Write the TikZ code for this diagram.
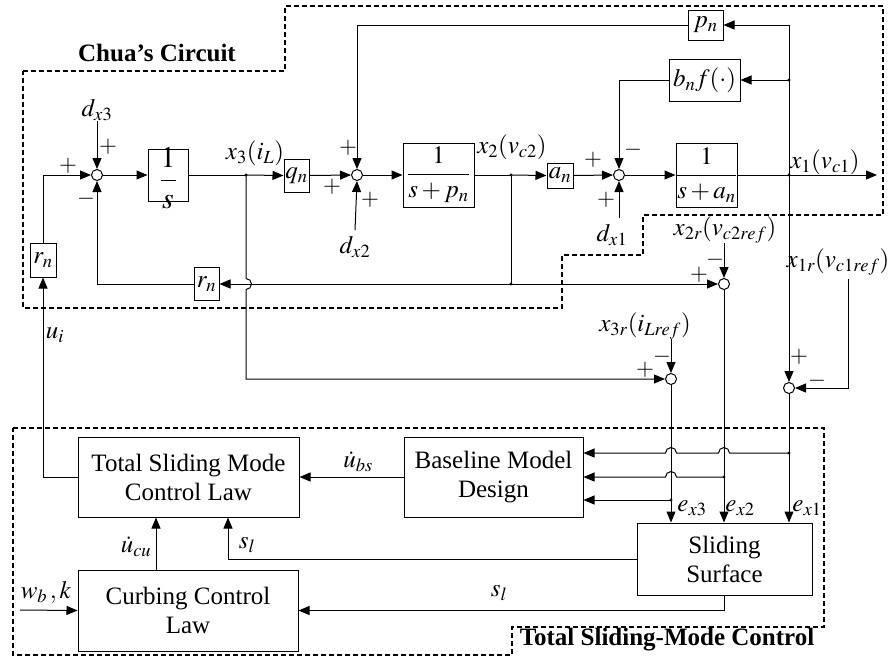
\documentclass[tikz,border=0pt]{standalone}
\usepackage{amsmath}
\usepackage{mathptmx}
\usepackage{fontspec}
\setmainfont{Liberation Serif}
\usetikzlibrary{arrows.meta}
\begin{document}
\begin{tikzpicture}[x=1pt,y=-1pt,
  every node/.style={font=\fontsize{25}{29}\selectfont, inner sep=0pt},
  blk/.style={draw, line width=1pt, align=center},
  sumj/.style={draw, circle, minimum size=11pt, inner sep=0pt, line width=1pt},
  sig/.style={font=\fontsize{23}{23}\selectfont},
  wire/.style={line width=1pt},
  arr/.style={wire, -{Triangle[length=11pt,width=9pt]}},
  bnd/.style={line width=1.4pt, dash pattern=on 5pt off 3pt}]
\useasboundingbox (0,0) rectangle (892,657);

% ---------- boundaries ----------
\draw[bnd] (23,71) -- (285,71) -- (285,6) -- (883,6) -- (883,215) -- (643,215) -- (643,255) -- (562,255) -- (562,308) -- (23,308) -- cycle;
\draw[bnd] (13,428) -- (824,428) -- (824,627) -- (512,627) -- (512,655) -- (13,655) -- cycle;
\node[font=\fontsize{25}{29}\selectfont\bfseries] (chua) at (157,53) {Chua’s Circuit};
\node[font=\fontsize{25}{29}\selectfont\bfseries] (tsmc) at (667,640) {Total Sliding-Mode Control};

% ---------- Chua blocks ----------
\node[sumj] (s1) at (97,175) {};
\node[blk, minimum width=40pt, minimum height=52pt] (ig) at (168,175) {};
\node[font=\fontsize{30}{30}\selectfont] (igt) at (168,178) {$\dfrac{1}{s}$};
\node[blk, minimum width=25pt, minimum height=33pt] (qn) at (296.5,175.5) {$q_n$};
\node[sumj] (s2) at (357,175) {};
\node[blk, minimum width=71pt, minimum height=64pt] (g2) at (438.5,175) {$\dfrac{1}{s+p_n}$};
\node[blk, minimum width=26pt, minimum height=25pt] (an) at (560,175.5) {$a_n$};
\node[sumj] (s3) at (619,175) {};
\node[blk, minimum width=61pt, minimum height=64pt] (g1) at (706.5,175) {$\dfrac{1}{s+a_n}$};
\node[blk, minimum width=71pt, minimum height=42pt] (bnf) at (704.5,80) {$b_n f(\cdot)$};
\node[blk, minimum width=35pt, minimum height=30pt] (pn) at (705.5,25) {$p_n$};
\node[blk, minimum width=26pt, minimum height=34pt] (rn1) at (43,260) {$r_n$};
\node[blk, minimum width=25pt, minimum height=33pt] (rn2) at (206.5,284) {$r_n$};
\node[sumj] (s2r) at (724,284) {};
\node[sumj] (s3r) at (671,379) {};
\node[sumj] (s1r) at (789,388) {};

% ---------- control blocks ----------
\node[blk, minimum width=221pt, minimum height=80pt] (tsm) at (188.5,477) {Total Sliding Mode\\Control Law};
\node[blk, minimum width=179pt, minimum height=80pt] (bmd) at (493.5,477) {Baseline Model\\Design};
\node[blk, minimum width=175pt, minimum height=72pt] (ss) at (724.5,559) {Sliding\\Surface};
\node[blk, minimum width=220pt, minimum height=81pt] (ccl) at (188,610.5) {Curbing Control\\Law};

% ---------- coordinates ----------
\coordinate (x3d) at (246,175);
\coordinate (x2d) at (511,175);
\coordinate (x1d) at (789,175);
\coordinate (x2b) at (511,284);
\coordinate (bnd) at (789,80);
\coordinate (pnc) at (789,25);
\coordinate (x1e) at (877,175);
\coordinate (fbt) at (357,25);
\coordinate (bnl) at (619,80);
\coordinate (lft) at (43,175);
\coordinate (e1d) at (789,453);
\coordinate (e2d) at (724,477);
\coordinate (e3d) at (671,500);
\coordinate (win) at (20,610);

% ---------- labels ----------
\node (dx3) at (97,110) {$d_{x3}$};
\node (dx2) at (355,247) {$d_{x2}$};
\node (dx1) at (612,235) {$d_{x1}$};
\node (lx3) at (255,153) {$x_3(i_L)$};
\node (lx2) at (512,147) {$x_2(v_{c2})$};
\node (lx1) at (825,162) {$x_1(v_{c1})$};
\node (x2r) at (725,230) {$x_{2r}(v_{c2ref})$};
\node (x3r) at (645,326) {$x_{3r}(i_{Lref})$};
\node (x1r) at (838,262) {$x_{1r}(v_{c1ref})$};
\node (lui) at (55,335) {$u_i$};
\node (lubs) at (358,462) {$\dot{u}_{bs}$};
\node (lucu) at (136,547) {$\dot{u}_{cu}$};
\node (lsl1) at (247,545) {$s_l$};
\node (lsl2) at (499,593) {$s_l$};
\node (lwbk) at (46,592) {$w_b\,, k$};
\node (lex3) at (692,508) {$e_{x3}$};
\node (lex2) at (740,508) {$e_{x2}$};
\node (lex1) at (807,508) {$e_{x1}$};

% signs
\node[sig] (p1) at (108,147) {$+$};
\node[sig] (p2) at (68,166) {$+$};
\node[sig] (m1) at (86,199) {$-$};
\node[sig] (p3) at (348,148) {$+$};
\node[sig] (p4) at (332,187) {$+$};
\node[sig] (p5) at (370,200) {$+$};
\node[sig] (p6) at (593,160) {$+$};
\node[sig] (p7) at (606,200) {$+$};
\node[sig] (m2) at (633,150) {$-$};
\node[sig] (m3) at (715,260) {$-$};
\node[sig] (p8) at (699,275) {$+$};
\node[sig] (m4) at (662,357) {$-$};
\node[sig] (p9) at (645,370) {$+$};
\node[sig] (p10) at (799,357) {$+$};
\node[sig] (m5) at (817,381) {$-$};

% ---------- wires: Chua ----------
\draw[arr] (lft) -- (s1.west);
\draw[arr] (s1.east) -- (ig.west);
\draw[wire] (ig.east) -- (x3d);
\draw[arr] (x3d) -- (qn.west);
\draw[arr] (qn.east) -- (s2.west);
\draw[arr] (s2.east) -- (g2.west);
\draw[wire] (g2.east) -- (x2d);
\draw[arr] (x2d) -- (an.west);
\draw[arr] (an.east) -- (s3.west);
\draw[arr] (s3.east) -- (g1.west);
\draw[arr] (g1.east) -- (x1e);
\draw[arr] (pnc) -- (pn.east);
\draw[wire] (pn.west) -- (fbt);
\draw[arr] (fbt) -- (s2.north);
\draw[arr] (bnd) -- (bnf.east);
\draw[wire] (bnf.west) -- (bnl);
\draw[arr] (bnl) -- (s3.north);
\draw[wire] (pnc) -- (x1d);
\draw[arr] (x1d) -- (s1r.north);
\draw[arr] (dx3.south) -- (s1.north);
\draw[arr] ([yshift=6pt]dx2.north) -- (s2.south);
\draw[arr] ([yshift=6pt]dx1.north -| s3.south) -- (s3.south);
\draw[arr] (rn2.west) -| (s1.south);
\draw[wire] (x2d) -- (x2b);
\draw[arr] (x2b) -- (rn2.east);
\draw[arr] (x2b) -- (s2r.west);
\draw[arr] (x3d) -- (246,278.5) arc[start angle=-90, end angle=90, radius=5.5] -- (246,379) -- (s3r.west);
\draw[wire] (rn1.north) -- (lft);
\draw[arr] (x2r.south -| s2r.north) -- (s2r.north);
\draw[arr] (x3r.south -| s3r.north) -- (s3r.north);
\draw[arr] ([xshift=10pt,yshift=-4pt]x1r.south) |- (s1r.east);

% ---------- wires: control ----------
\draw[arr] (s3r.south) -- (s3r.south |- ss.north);
\draw[arr] (s2r.south) -- (s2r.south |- ss.north);
\draw[arr] (s1r.south) -- (s1r.south |- ss.north);
\draw[arr] (e1d) -- (729.5,453) arc[start angle=0, end angle=-180, radius=5.5] -- (676.5,453) arc[start angle=0, end angle=-180, radius=5.5] -- ([yshift=24pt]bmd.east);
\draw[arr] (e2d) -- (676.5,477) arc[start angle=0, end angle=-180, radius=5.5] -- (bmd.east);
\draw[arr] (e3d) -- ([yshift=-23pt]bmd.east);
\draw[arr] (bmd.west) -- (tsm.east);
\draw[arr] (tsm.west) -| (rn1.south);
\draw[arr] ([xshift=-32pt]ccl.north) -- ([xshift=-32.5pt]tsm.south);
\draw[arr] (ss.west) -| ([xshift=39.5pt]tsm.south);
\draw[arr] (ss.south) |- (ccl.east);
\draw[arr] (win) -- (ccl.west);

% dots
\foreach \p in {x3d,x2d,x1d,x2b,bnd,e1d,e2d,e3d}
  \fill (\p) circle (1.7);
\end{tikzpicture}
\end{document}
